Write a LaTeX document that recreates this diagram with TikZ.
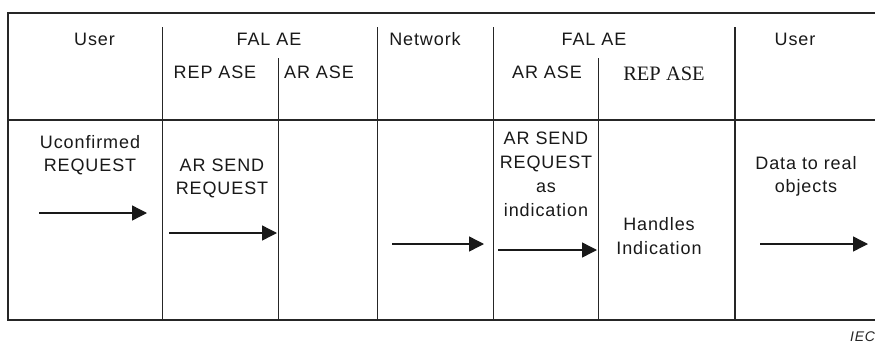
\documentclass[tikz,border=0pt]{standalone}
\usepackage{fontspec}
\setmainfont{Liberation Sans}[LetterSpace=5]
\newfontfamily\serifrep{Liberation Serif}
\usetikzlibrary{arrows.meta}
\begin{document}
\begin{tikzpicture}[x=1pt,y=-1pt,
  frame/.style={line width=1.8pt, black!85},
  lbl/.style={font=\fontsize{18}{23}\selectfont, inner sep=0pt, anchor=base, text=black!90},
  flow/.style={line width=1.4pt, black!90, -{Triangle[length=15pt,width=15pt]}},
  iec/.style={font=\fontsize{14}{17}\itshape, inner sep=0pt, anchor=base west, text=black!85}]
\useasboundingbox[fill=white] (0,0) rectangle (875,343);
% frame
\draw[frame] (876,13) -- (8,13) -- (8,320) -- (876,320);
\draw[frame] (8,120) -- (876,120);
\draw[frame] (162.5,27) -- (162.5,320);
\draw[frame] (278.5,58) -- (278.5,320);
\draw[frame] (377.5,27) -- (377.5,320);
\draw[frame] (493.5,27) -- (493.5,320);
\draw[frame] (598.5,58) -- (598.5,320);
\draw[frame] (735,27) -- (735,320);
% header
\node[lbl] (hU1) at (94.5,45) {User};
\node[lbl] (hF1) at (269,45) {FAL AE};
\node[lbl] (hR1) at (215,78) {REP ASE};
\node[lbl] (hA1) at (319,78) {AR ASE};
\node[lbl] (hN) at (425,45) {Network};
\node[lbl] (hF2) at (594,45) {FAL AE};
\node[lbl] (hA2) at (547,78) {AR ASE};
\node[lbl, font=\fontsize{20.5}{23}\serifrep] (hR2) at (664,80) {REP ASE};
\node[lbl] (hU2) at (795,45) {User};
% body texts
\node[lbl] (t1a) at (90,148) {Uconfirmed};
\node[lbl] (t1b) at (90,171.5) {REQUEST};
\node[lbl] (t2a) at (222,171.5) {AR SEND};
\node[lbl] (t2b) at (222,194.5) {REQUEST};
\node[lbl] (t3a) at (546,144) {AR SEND};
\node[lbl] (t3b) at (546,168) {REQUEST};
\node[lbl] (t3c) at (546,192) {as};
\node[lbl] (t3d) at (546,216) {indication};
\node[lbl] (t4a) at (659,230.5) {Handles};
\node[lbl] (t4b) at (659,254) {Indication};
\node[lbl] (t5a) at (806,169) {Data to real};
\node[lbl] (t5b) at (806,192) {objects};
% arrows
\coordinate (a1s) at (39,213); \coordinate (a1e) at (147,213);
\coordinate (a2s) at (169,233); \coordinate (a2e) at (277,233);
\coordinate (a3s) at (392,244); \coordinate (a3e) at (484,244);
\coordinate (a4s) at (498,250); \coordinate (a4e) at (597,250);
\coordinate (a5s) at (760,244); \coordinate (a5e) at (868,244);
\draw[flow] (a1s) -- (a1e);
\draw[flow] (a2s) -- (a2e);
\draw[flow] (a3s) -- (a3e);
\draw[flow] (a4s) -- (a4e);
\draw[flow] (a5s) -- (a5e);
% source tag
\node[iec] (tag) at (850,341) {IEC};
\end{tikzpicture}
\end{document}
